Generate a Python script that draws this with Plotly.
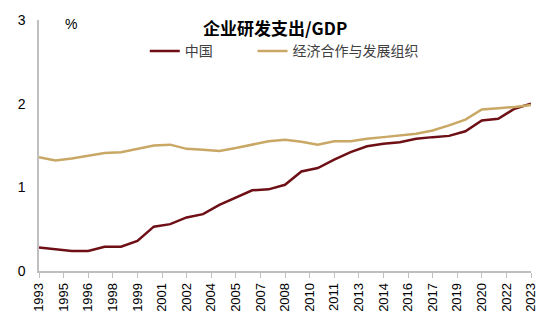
import plotly.graph_objects as go

years = list(range(1993, 2024))
china = [0.28, 0.26, 0.24, 0.24, 0.29, 0.29, 0.36, 0.53, 0.56, 0.64, 0.68, 0.79, 0.88, 0.965, 0.976,
         1.03, 1.19, 1.23, 1.33, 1.42, 1.49, 1.52, 1.54, 1.58, 1.60, 1.615, 1.67, 1.80, 1.82, 1.94, 2.00]
oecd = [1.36, 1.32, 1.345, 1.376, 1.41, 1.42, 1.46, 1.50, 1.51, 1.46, 1.45, 1.435, 1.47, 1.51, 1.55,
        1.57, 1.545, 1.51, 1.55, 1.55, 1.58, 1.60, 1.62, 1.64, 1.68, 1.74, 1.81, 1.93, 1.945, 1.96, 1.985]
tick_vals = [1993 + 1.5 * k for k in range(21)]
tick_text = ["1993", "1995", "1996", "1998", "1999", "2001", "2002", "2004", "2005", "2007", "2008",
             "2010", "2011", "2013", "2014", "2016", "2017", "2019", "2020", "2022", "2023"]

font_fam = "Liberation Sans, Arial, Noto Sans CJK SC"
cjk_fam = "Noto Sans CJK SC, Liberation Sans"

fig = go.Figure()
fig.add_trace(go.Scatter(x=years, y=china, mode="lines", name="中国", legend="legend",
                         line=dict(color="#6E0F16", width=2.5)))
fig.add_trace(go.Scatter(x=years, y=oecd, mode="lines", name="经济合作与发展组织", legend="legend2",
                         line=dict(color="#C9A765", width=2.5)))

leg_common = dict(orientation="h", yanchor="middle", xanchor="left", y=0.875,
                  font=dict(size=14, family=cjk_fam, color="#404040"),
                  bgcolor="rgba(0,0,0,0)", itemwidth=30)

fig.update_layout(
    width=550, height=324,
    margin=dict(l=39, r=18, t=18, b=51),
    paper_bgcolor="white", plot_bgcolor="white",
    font=dict(family=font_fam, size=12, color="#000000"),
    showlegend=True,
    legend=dict(x=0.215, **leg_common),
    legend2=dict(x=0.434, **leg_common),
    xaxis=dict(range=[1993, 2023], tickmode="array", tickvals=tick_vals, ticktext=tick_text,
               tickangle=-90, showgrid=False, zeroline=False, showline=True,
               linecolor="#BFBFBF", linewidth=1.5, ticks="outside", ticklen=5,
               tickcolor="#BFBFBF", tickfont=dict(size=13, color="#000000")),
    yaxis=dict(range=[0, 3], tickvals=[0, 1, 2, 3], showgrid=False, zeroline=False,
               showline=True, linecolor="#BFBFBF", linewidth=1.5, ticks="",
               ticklabelstandoff=9, tickfont=dict(size=14, color="#000000")),
    annotations=[
        dict(text="<b>企业研发支出/GDP</b>", x=0.48, y=0.972, xref="paper", yref="paper",
             xanchor="center", yanchor="middle", showarrow=False,
             font=dict(size=17, family=cjk_fam, color="#000000")),
        dict(text="%", x=0.065, y=0.984, xref="paper", yref="paper", showarrow=False,
             xanchor="center", yanchor="middle",
             font=dict(size=14, color="#000000")),
    ],
)
fig.write_html("out.html")
